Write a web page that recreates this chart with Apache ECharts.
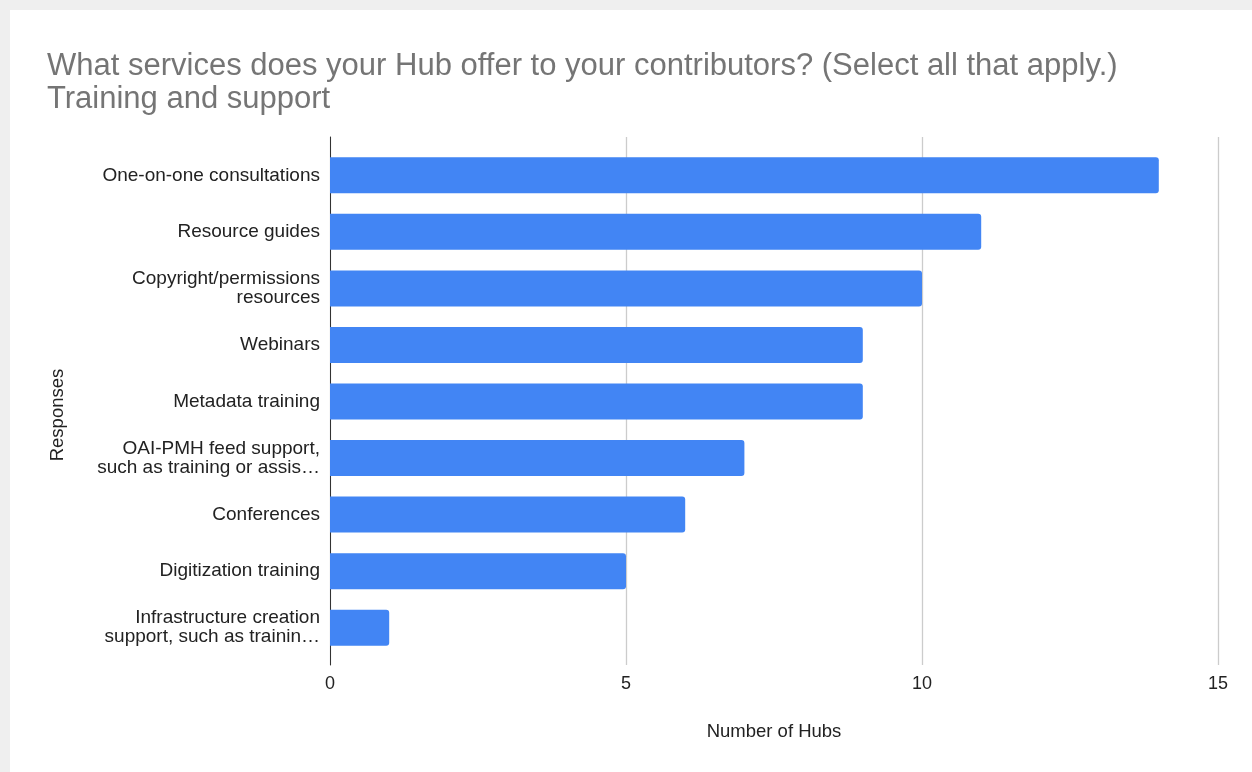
<!DOCTYPE html>
<html>
<head>
<meta charset="utf-8">
<script src="https://cdn.jsdelivr.net/npm/echarts@6/dist/echarts.min.js"></script>
<style>
  html, body { margin: 0; padding: 0; background: #efefef; }
  body { width: 1252px; height: 772px; position: relative; overflow: hidden; }
  #card { position: absolute; left: 10px; top: 10px; right: 0; bottom: 0; background: #ffffff; }
  #chart { position: absolute; left: 0; top: 0; width: 1252px; height: 772px; }
</style>
</head>
<body>
<div id="card"></div>
<div id="chart"></div>
<script>
// Survey answers: training and support services offered by hubs
const titleLines = [
  "What services does your Hub offer to your contributors? (Select all that apply.)",
  "Training and support"
];
const categories = [
  "One-on-one consultations",
  "Resource guides",
  "Copyright/permissions\nresources",
  "Webinars",
  "Metadata training",
  "OAI-PMH feed support,\nsuch as training or assis…",
  "Conferences",
  "Digitization training",
  "Infrastructure creation\nsupport, such as trainin…"
];
const hubCounts = [14, 11, 10, 9, 9, 7, 6, 5, 1];
const xAxisMin = 0;
const xAxisMax = 15;
const xAxisStep = 5;
const xAxisTitle = "Number of Hubs";
const yAxisTitle = "Responses";

const FONT = "'Liberation Sans', Arial, Helvetica, sans-serif";

const chart = echarts.init(document.getElementById('chart'), null, { renderer: 'canvas' });

chart.setOption({
  backgroundColor: 'transparent',
  animation: false,
  title: {
    text: titleLines.join('\n'),
    left: 42,
    top: 45,
    textStyle: {
      fontFamily: FONT,
      fontSize: 31,
      fontWeight: 'normal',
      color: '#757575',
      lineHeight: 33
    }
  },
  grid: [
    // frame grid: gridlines, tick labels and baseline
    { left: 330, right: 34, top: 137, bottom: 107 },
    // bar grid: category bands
    { left: 330, right: 34, top: 147, bottom: 116 }
  ],
  xAxis: [
    {
      gridIndex: 0,
      type: 'value',
      min: xAxisMin,
      max: xAxisMax,
      interval: xAxisStep,
      name: xAxisTitle,
      nameLocation: 'middle',
      nameGap: 57,
      nameTextStyle: { fontFamily: FONT, fontSize: 18.5, color: '#222222' },
      axisLine: { show: false },
      axisTick: { show: false },
      axisLabel: { fontFamily: FONT, fontSize: 18, color: '#222222', margin: 10 },
      splitLine: { show: true, lineStyle: { color: '#cccccc', width: 1.3 } }
    },
    {
      gridIndex: 1,
      type: 'value',
      min: xAxisMin,
      max: xAxisMax,
      interval: xAxisStep,
      show: false
    }
  ],
  yAxis: [
    {
      gridIndex: 0,
      type: 'value',
      min: 0,
      max: 1,
      axisLine: { show: true, onZero: false, lineStyle: { color: '#333333', width: 1 } },
      axisTick: { show: false },
      axisLabel: { show: false },
      splitLine: { show: false }
    },
    {
      gridIndex: 1,
      type: 'category',
      data: categories,
      inverse: true,
      axisLine: { show: false },
      axisTick: { show: false },
      axisLabel: {
        fontFamily: FONT,
        fontSize: 19,
        color: '#222222',
        margin: 10,
        lineHeight: 19,
        align: 'right',
        padding: [3, 0, 0, 0]
      },
      splitLine: { show: false }
    }
  ],
  graphic: [
    {
      type: 'text',
      x: 58,
      y: 415,
      rotation: Math.PI / 2,
      style: {
        text: yAxisTitle,
        fontFamily: FONT,
        fontSize: 18.5,
        fill: '#222222',
        textAlign: 'center',
        textVerticalAlign: 'middle'
      }
    }
  ],
  series: [
    {
      type: 'bar',
      xAxisIndex: 1,
      yAxisIndex: 1,
      data: hubCounts,
      barWidth: 36,
      itemStyle: { color: '#4285f4', borderRadius: [0, 3, 3, 0] },
      z: 3
    }
  ]
});
</script>
</body>
</html>
